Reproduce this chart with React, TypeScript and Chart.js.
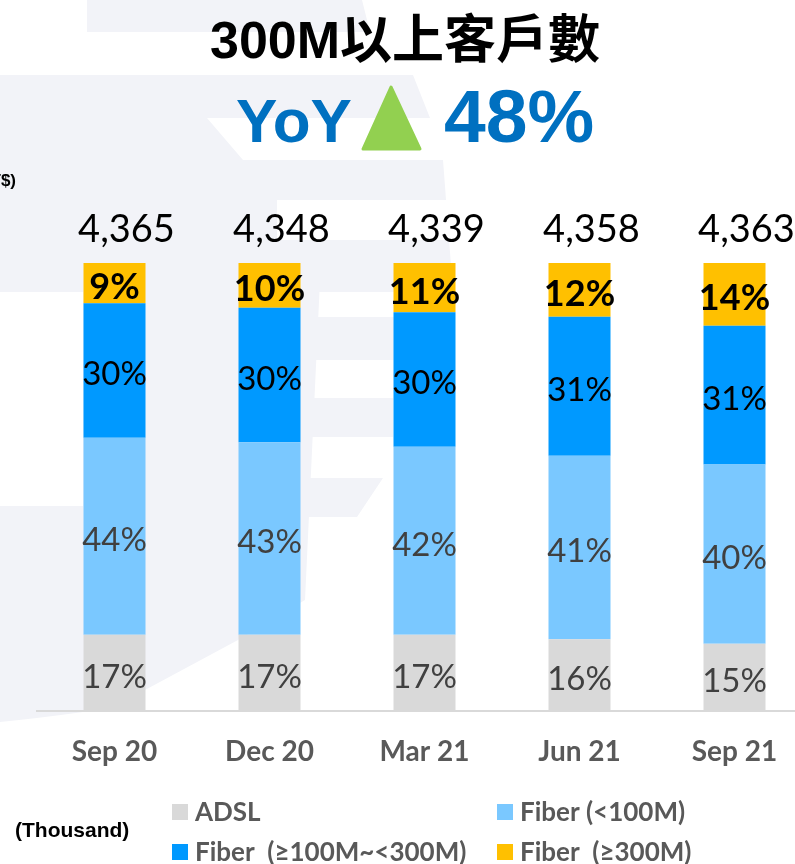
import React, { useEffect, useRef } from 'react';
import { Chart, registerables } from 'chart.js';

Chart.register(...registerables);

// ---- data ----
const categories = ['Sep 20', 'Dec 20', 'Mar 21', 'Jun 21', 'Sep 21'];
const adsl = [17, 17, 17, 16, 15];
const fiberUnder100 = [44, 43, 42, 41, 40];
const fiber100to300 = [30, 30, 30, 31, 31];
const fiber300plus = [9, 10, 11, 12, 14];
const totals = [4365, 4348, 4339, 4358, 4363];
const seriesNames = ['ADSL', 'Fiber (<100M)', 'Fiber  (≥100M~<300M)', 'Fiber  (≥300M)'];
const titleText = '300M以上客戶數';
const yoyLabel = 'YoY';
const yoyValue = '48%';
const unitText = '(Thousand)';
const currencyText = '(NT$)';

const LATO = 'Lato, "Open Sans", sans-serif';
const ARIAL = '"Liberation Sans", Arial, "Noto Sans CJK TC", sans-serif';

const watermarkPlugin = {
  id: 'watermark',
  beforeDraw(chart: any) {
    const ctx = chart.ctx;
    const poly = (pts: number[][], color: string) => {
      ctx.beginPath();
      ctx.moveTo(pts[0][0], pts[0][1]);
      for (let i = 1; i < pts.length; i++) ctx.lineTo(pts[i][0], pts[i][1]);
      ctx.closePath();
      ctx.fillStyle = color;
      ctx.fill();
    };
    ctx.save();
    const c = '#F2F3F8';
    poly([[87, 0], [362, 0], [370, 32], [87, 32]], c);
    poly([[0, 75], [413, 75], [430, 118], [207, 118], [243, 160], [443, 160], [453, 292], [0, 292]], c);
    poly([[277, 200], [455, 200], [455, 240], [277, 240]], '#FFFFFF');
    poly([[83, 280], [320, 280], [305, 600], [238, 640], [145, 690], [83, 712]], c);
    ctx.beginPath();
    ctx.moveTo(0, 506);
    ctx.lineTo(83, 506);
    ctx.lineTo(83, 712);
    ctx.quadraticCurveTo(40, 718, 0, 722);
    ctx.closePath();
    ctx.fillStyle = c;
    ctx.fill();
    poly([[300, 317], [453, 317], [453, 360], [300, 360]], c);
    poly([[300, 398], [393, 398], [393, 437], [300, 437]], c);
    poly([[300, 478], [383, 478], [357, 517], [300, 517]], c);
    ctx.restore();
  },
};

const decorPlugin = {
  id: 'decor',
  afterDraw(chart: any) {
    const ctx = chart.ctx;
    ctx.save();
    // title
    ctx.fillStyle = '#000000';
    ctx.font = `bold 52px ${ARIAL}`;
    ctx.textAlign = 'center';
    ctx.textBaseline = 'alphabetic';
    ctx.fillText(titleText, 405, 58);
    // YoY
    ctx.textAlign = 'left';
    ctx.fillStyle = '#0070C0';
    ctx.font = `bold 62px ${ARIAL}`;
    ctx.fillText(yoyLabel, 236, 142);
    ctx.font = `bold 75px ${ARIAL}`;
    ctx.fillText(yoyValue, 444, 142);
    // triangle
    ctx.fillStyle = '#92D050';
    ctx.strokeStyle = '#92D050';
    ctx.lineJoin = 'round';
    ctx.lineWidth = 3;
    ctx.beginPath();
    ctx.moveTo(363, 149);
    ctx.lineTo(391, 87);
    ctx.lineTo(420, 149);
    ctx.closePath();
    ctx.fill();
    ctx.stroke();
    // currency (cut at left edge)
    ctx.fillStyle = '#000000';
    ctx.font = `bold 17px ${ARIAL}`;
    ctx.textAlign = 'right';
    ctx.fillText(currencyText, 16, 186);
    // unit
    ctx.textAlign = 'left';
    ctx.font = `bold 21px ${ARIAL}`;
    ctx.fillText(unitText, 15, 837);
    // legend (2 x 2 grid)
    const ds = chart.data.datasets;
    const cells = [
      [172, 812],
      [497, 812],
      [172, 852],
      [497, 852],
    ];
    ctx.font = `bold 26px ${LATO}`;
    ctx.textBaseline = 'middle';
    ds.forEach((d: any, i: number) => {
      const [lx, ly] = cells[i];
      ctx.fillStyle = d.backgroundColor;
      ctx.fillRect(lx, ly - 8, 16, 16);
      ctx.fillStyle = '#595959';
      ctx.fillText(d.label, lx + 23, ly + 1);
    });
    ctx.restore();
  },
};

const labelsPlugin = {
  id: 'segLabels',
  afterDatasetsDraw(chart: any) {
    const ctx = chart.ctx;
    ctx.save();
    ctx.textAlign = 'center';
    ctx.textBaseline = 'alphabetic';
    chart.data.datasets.forEach((d: any, di: number) => {
      const meta = chart.getDatasetMeta(di);
      meta.data.forEach((bar: any, i: number) => {
        const { x, y, base } = bar.getProps(['x', 'y', 'base'], true);
        const size = d.labelSize;
        ctx.font = `${d.labelBold ? 'bold ' : ''}${size}px ${LATO}`;
        ctx.fillStyle = d.labelColor;
        const cy = (y + base) / 2;
        ctx.fillText(`${d.data[i]}%`, x, cy + size * 0.36 + 3);
      });
    });
    // totals (text boxes sit a little to the right of each bar)
    const topPx = chart.scales.y.getPixelForValue(100);
    const meta0 = chart.getDatasetMeta(0);
    ctx.font = `38px ${LATO}`;
    ctx.fillStyle = '#000000';
    meta0.data.forEach((bar: any, i: number) => {
      ctx.fillText(totals[i].toLocaleString('en-US'), bar.x + 12, topPx - 21);
    });
    ctx.restore();
  },
};

export default function App() {
  const canvasRef = useRef<HTMLCanvasElement | null>(null);

  useEffect(() => {
    const canvas = canvasRef.current;
    if (!canvas) return;
    const chart = new Chart(canvas, {
      type: 'bar',
      data: {
        labels: categories,
        datasets: [
          {
            label: seriesNames[0],
            data: adsl,
            backgroundColor: '#D9D9D9',
            labelColor: '#404040',
            labelSize: 33,
            labelBold: false,
          } as any,
          {
            label: seriesNames[1],
            data: fiberUnder100,
            backgroundColor: '#7AC8FF',
            labelColor: '#404040',
            labelSize: 33,
            labelBold: false,
          } as any,
          {
            label: seriesNames[2],
            data: fiber100to300,
            backgroundColor: '#0099FF',
            labelColor: '#000000',
            labelSize: 33,
            labelBold: false,
          } as any,
          {
            label: seriesNames[3],
            data: fiber300plus,
            backgroundColor: '#FFC000',
            labelColor: '#000000',
            labelSize: 36,
            labelBold: true,
          } as any,
        ],
      },
      options: {
        responsive: false,
        animation: false,
        devicePixelRatio: 1,
        layout: { padding: { left: 37, right: 0, top: 263, bottom: 71.4 } },
        datasets: {
          bar: { categoryPercentage: 0.4, barPercentage: 1, borderWidth: 0 },
        },
        plugins: {
          legend: { display: false },
          title: { display: false },
          tooltip: { enabled: false },
        },
        scales: {
          x: {
            stacked: true,
            grid: { display: false, drawTicks: false },
            border: { display: true, color: '#D9D9D9', width: 2 },
            ticks: {
              color: '#595959',
              font: { family: LATO, size: 28, weight: 'bold' },
              padding: 24,
            },
          },
          y: {
            stacked: true,
            display: false,
            min: 0,
            max: 100,
          },
        },
      },
      plugins: [watermarkPlugin, labelsPlugin, decorPlugin],
    });
    return () => chart.destroy();
  }, []);

  return (
    <div
      style={{
        position: 'fixed',
        left: 0,
        top: 0,
        width: 795,
        height: 864,
        overflow: 'hidden',
        background: '#FFFFFF',
      }}
    >
      <canvas ref={canvasRef} width={812} height={864} style={{ display: 'block' }} />
    </div>
  );
}
